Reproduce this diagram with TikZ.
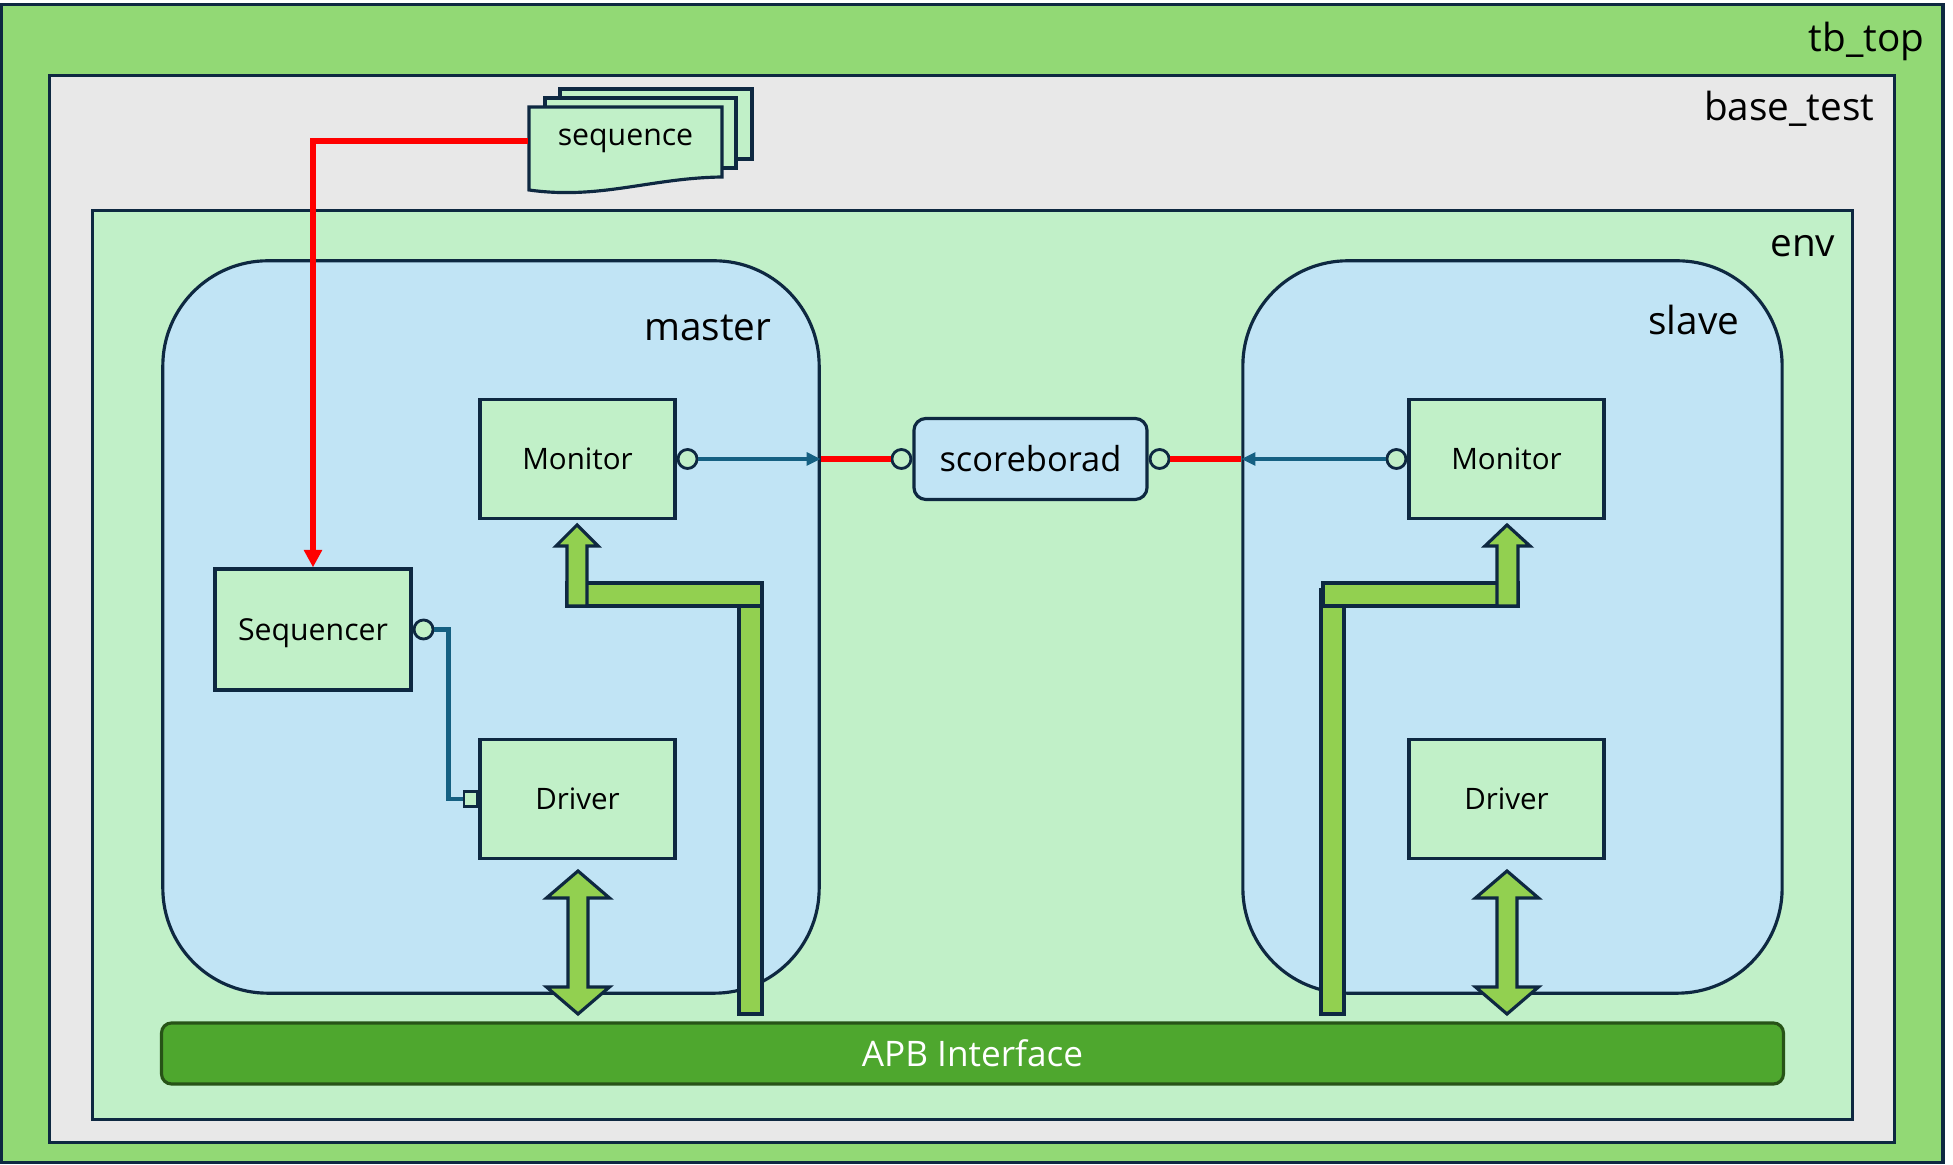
\documentclass[tikz,border=0pt]{standalone}
\usepackage{fontspec}
\setmainfont{Open Sans}
\usetikzlibrary{arrows.meta}

\definecolor{navy}{HTML}{0E2841}
\definecolor{tbgreen}{RGB}{146,217,117}
\definecolor{testgray}{HTML}{E8E8E8}
\definecolor{envgreen}{HTML}{C1F0C8}
\definecolor{blockblue}{HTML}{C1E4F5}
\definecolor{busgreen}{HTML}{92D050}
\definecolor{apbgreen}{HTML}{4EA72E}
\definecolor{apbdark}{HTML}{275317}
\definecolor{portblue}{HTML}{156082}

\begin{document}
\begin{tikzpicture}[x=0.01cm,y=-0.01cm,
  box/.style={draw=navy,line width=0.9pt,inner sep=0pt},
  unit/.style={box,fill=envgreen,minimum width=1.95cm,minimum height=1.19cm,font=\fontsize{8.4}{10}\selectfont},
  agent/.style={box,fill=blockblue,rounded corners=1.05cm,minimum width=#1,minimum height=7.32cm},
  title/.style={anchor=base east,inner sep=0pt,font=\fontsize{11}{13}\selectfont},
  port/.style={circle,draw=navy,line width=0.8pt,fill=envgreen,minimum size=0.19cm,inner sep=0pt},
  bus/.style={draw=navy,line width=0.9pt,fill=busgreen},
  tlm/.style={draw=portblue,line width=1.4pt},
  seqline/.style={draw=red,line width=1.7pt}]
\fill[white] (0,0) rectangle (1953,1165);
\useasboundingbox (0,0) rectangle (1953,1165);

\node[box,fill=tbgreen,minimum width=19.41cm,minimum height=11.57cm] (tbtop) at (972,583.5) {};
\node[box,fill=testgray,minimum width=18.44cm,minimum height=10.66cm] (basetest) at (972,609) {};
\node[box,fill=envgreen,minimum width=17.59cm,minimum height=9.08cm] (env) at (972.5,665) {};
\node[title] (tbtoplbl) at (1925,52) {tb\_top};
\node[title] (basetestlbl) at (1875,121) {base\_test};
\node[title] (envlbl) at (1836,257) {env};

\node[agent=6.56cm] (master) at (491,627) {};
\node[agent=5.39cm] (slave) at (1512.5,627) {};
\node[title] (masterlbl) at (772,341) {master};
\node[title] (slavelbl) at (1740,335) {slave};

\node[box,draw=apbdark,fill=apbgreen,rounded corners=0.1cm,minimum width=16.21cm,minimum height=0.61cm,text=white,font=\fontsize{10}{12}\selectfont] (apb) at (972.5,1053.5) {APB Interface};

\draw[box,fill=envgreen] (560,89) rectangle (752,159);
\draw[box,fill=envgreen] (545,98) rectangle (736,168);
\draw[box,fill=envgreen] (529,107) -- (722,107) -- (722,177) .. controls (650,178) and (600,200) .. (529,190) -- cycle;
\node[inner sep=0pt,minimum width=1.93cm,minimum height=0.5cm,font=\fontsize{8.6}{10}\selectfont] (seqdoc) at (625.5,141) {sequence};

\node[unit] (mmon) at (577.5,459) {Monitor};
\node[unit] (mdrv) at (577.5,799) {Driver};
\node[unit,minimum width=1.96cm,minimum height=1.21cm,text depth=0pt,font=\fontsize{8.6}{10}\selectfont] (seqr) at (313,629.5) {Sequencer};
\node[unit] (smon) at (1506.5,459) {Monitor};
\node[unit] (sdrv) at (1506.5,799) {Driver};
\node[box,fill=blockblue,rounded corners=0.12cm,minimum width=2.33cm,minimum height=0.81cm,font=\fontsize{9.8}{12}\selectfont] (sb) at (1030.5,459) {scoreborad};

\draw[bus] (739,606) rectangle (762,1014);
\draw[bus] (567,583) rectangle (762,606);
\draw[bus] (567,606) -- (567,546) -- (556,546) -- (577,525) -- (598,546) -- (587,546) -- (587,606) -- cycle;
\draw[bus] (1321,590) rectangle (1344,1014);
\draw[bus] (1323,583) rectangle (1518,606);
\draw[bus] (1497,606) -- (1497,546) -- (1485,546) -- (1507,525) -- (1530,546) -- (1518,546) -- (1518,606) -- cycle;
\draw[bus] (578,871) -- (609.5,898) -- (588,898) -- (588,987) -- (609.5,987) -- (578,1014) -- (546.5,987) -- (568,987) -- (568,898) -- (546.5,898) -- cycle;
\draw[bus] (1507,871) -- (1538.5,898) -- (1517,898) -- (1517,987) -- (1538.5,987) -- (1507,1014) -- (1475.5,987) -- (1497,987) -- (1497,898) -- (1475.5,898) -- cycle;

\node[port,anchor=west] (mmport) at (mmon.east) {};
\node[port,anchor=east] (smport) at (smon.west) {};
\node[port,anchor=east] (sbl) at (sb.west) {};
\node[port,anchor=west] (sbr) at (sb.east) {};
\node[port,anchor=west] (sqport) at (seqr.east) {};
\node[box,line width=0.8pt,fill=envgreen,minimum width=0.13cm,minimum height=0.15cm,anchor=east] (dport) at (mdrv.west) {};

\draw[tlm,-{Triangle[length=4pt,width=3.6pt]}] (mmport) -- (mmport -| master.east);
\draw[tlm,-{Triangle[length=4pt,width=3.6pt]}] (smport) -- (smport -| slave.west);
\draw[seqline] (mmport -| master.east) -- (sbl);
\draw[seqline] (sbr) -- (sbr -| slave.west);
\draw[tlm] (sqport) -- ++(25,0) |- (dport);
\draw[seqline,-{Triangle[length=5pt,width=5pt]}] (seqdoc.west) -| (seqr.north);
\end{tikzpicture}
\end{document}
